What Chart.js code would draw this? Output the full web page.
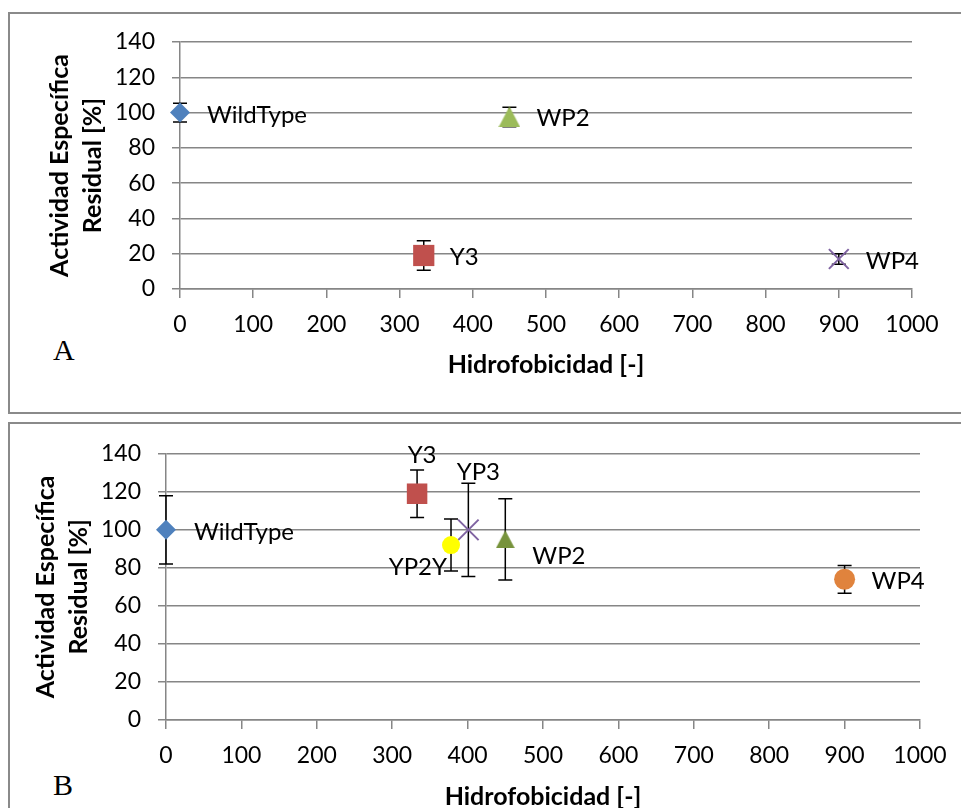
<!DOCTYPE html>
<html>
<head>
<meta charset="utf-8">
<script src="https://cdn.jsdelivr.net/npm/chart.js@4.4.1/dist/chart.umd.min.js"></script>
<style>
  html, body { margin: 0; padding: 0; background: #fff; overflow: hidden; }
  body { width: 961px; height: 808px; position: relative; }
  .frame { position: absolute; left: 8px; width: 1000px; border: 2px solid #8a8a8a; box-sizing: border-box; }
  .letter { position: absolute; left: 53px; font-family: "Liberation Serif", serif; font-size: 30px; line-height: 30px; color: #000; }
  canvas { position: absolute; left: 0; }
</style>
</head>
<body>
<div class="frame" style="top:12px;height:402px;"></div>
<div class="frame" style="top:422px;height:500px;"></div>
<div class="letter" style="top:335px;">A</div>
<div class="letter" style="top:770px;">B</div>
<canvas id="chartA" width="961" height="413" style="top:0;"></canvas>
<canvas id="chartB" width="961" height="400" style="top:423px;"></canvas>
<script>
// パネルA のデータ
const namesA = ['WildType', 'Y3', 'WP2', 'WP4'];
const hydroA = [0, 333, 450, 900];
const activityA = [100, 19, 97.5, 17];
const errorA = [5.3, 8.4, 5.5, 3];

// パネルB のデータ
const namesB = ['WildType', 'Y3', 'YP2Y', 'YP3', 'WP2', 'WP4'];
const hydroB = [0, 333, 378, 401, 450, 900];
const activityB = [100, 119, 92, 100, 95, 74];
const errorB = [18, 12.5, 13.7, 24.5, 21.4, 7.3];

// 目盛り
const yTicks = [0, 20, 40, 60, 80, 100, 120, 140];
const xTicks = [0, 100, 200, 300, 400, 500, 600, 700, 800, 900, 1000];

const FONT = 'Lato, "Open Sans", sans-serif';
const GRID = '#868686';

// Excel風の三角マーカー（外接矩形の中心に置く）
function triangleMarker(w, h, color) {
    const c = document.createElement('canvas');
    c.width = w; c.height = h;
    const g = c.getContext('2d');
    g.fillStyle = color;
    g.beginPath();
    g.moveTo(w / 2, 0);
    g.lineTo(w, h);
    g.lineTo(0, h);
    g.closePath();
    g.fill();
    return c;
}

// 誤差棒を描くプラグイン
const errorBarPlugin = {
    id: 'errorBars',
    beforeDatasetsDraw(chart, args, opts) {
        const ctx = chart.ctx;
        const xs = chart.scales.x, ys = chart.scales.y;
        ctx.save();
        ctx.strokeStyle = '#000';
        ctx.lineWidth = 1.5;
        opts.errors.forEach((e, i) => {
            const x = xs.getPixelForValue(opts.xs[i]);
            const top = ys.getPixelForValue(opts.ys[i] + e);
            const bot = ys.getPixelForValue(opts.ys[i] - e);
            ctx.beginPath();
            ctx.moveTo(x, top); ctx.lineTo(x, bot);
            ctx.moveTo(x - 7, top); ctx.lineTo(x + 7, top);
            ctx.moveTo(x - 7, bot); ctx.lineTo(x + 7, bot);
            ctx.stroke();
        });
        ctx.restore();
    }
};

// 点ラベルを描くプラグイン
const pointLabelPlugin = {
    id: 'pointLabels',
    afterDatasetsDraw(chart, args, opts) {
        const ctx = chart.ctx;
        ctx.save();
        ctx.font = '24px ' + FONT;
        ctx.fillStyle = '#000';
        ctx.textBaseline = 'middle';
        chart.data.datasets.forEach((ds, i) => {
            const p = chart.getDatasetMeta(i).data[0];
            const off = opts.offsets[i];
            ctx.textAlign = off[2] || 'left';
            ctx.fillText(ds.label, p.x + off[0], p.y + off[1]);
        });
        ctx.restore();
    }
};

function makeDatasets(names, xs, ys, styles, colors, radii) {
    return names.map((n, i) => ({
        label: n,
        data: [{ x: xs[i], y: ys[i] }],
        pointStyle: styles[i],
        pointRadius: radii[i],
        backgroundColor: colors[i],
        borderColor: colors[i],
        borderWidth: styles[i] === 'crossRot' ? 2 : 0,
        pointHoverRadius: radii[i],
        clip: false
    }));
}

function makeChart(id, datasets, errCfg, offsets, pad, yWidth, xHeight) {
    return new Chart(document.getElementById(id), {
        type: 'scatter',
        data: { datasets: datasets },
        options: {
            responsive: false,
            animation: false,
            devicePixelRatio: 1,
            layout: { padding: pad },
            plugins: {
                legend: { display: false },
                tooltip: { enabled: false },
                errorBars: errCfg,
                pointLabels: { offsets: offsets }
            },
            scales: {
                x: {
                    type: 'linear',
                    min: 0, max: 1000,
                    afterBuildTicks: s => { s.ticks = xTicks.map(v => ({ value: v })); },
                    afterFit: s => { s.height = xHeight; },
                    grid: { drawOnChartArea: false, drawTicks: true, tickLength: 9, color: GRID, lineWidth: 1.5 },
                    border: { display: true, color: GRID, width: 1.5 },
                    ticks: { color: '#000', padding: 13, font: { family: FONT, size: 23 }, maxRotation: 0, callback: v => String(v) },
                    title: { display: true, text: 'Hidrofobicidad [-]', color: '#000', font: { family: FONT, size: 25, weight: 'bold', lineHeight: 1.2 } }
                },
                y: {
                    type: 'linear',
                    min: 0, max: 140,
                    afterBuildTicks: s => { s.ticks = yTicks.map(v => ({ value: v })); },
                    afterFit: s => { s.width = yWidth; },
                    grid: { drawOnChartArea: true, drawTicks: true, tickLength: 8, color: GRID, lineWidth: 1.5 },
                    border: { display: true, color: GRID, width: 1.5 },
                    ticks: { color: '#000', padding: 17, font: { family: FONT, size: 23 }, callback: v => String(v) },
                    title: { display: true, text: ['Actividad Específica', 'Residual [%]'], color: '#000', font: { family: FONT, size: 25, weight: 'bold', lineHeight: 1.3 } }
                }
            }
        },
        plugins: [errorBarPlugin, pointLabelPlugin]
    });
}

makeChart('chartA',
    makeDatasets(namesA, hydroA, activityA,
        ['rectRot', 'rect', triangleMarker(22, 21, '#9bbb59'), 'crossRot'],
        ['#4f81bd', '#c0504d', '#9bbb59', '#8064a2'],
        [10, 15, 11, 14]),
    { xs: hydroA, ys: activityA, errors: errorA },
    [[27, 3], [26, 2], [27, 1], [27, 2]],
    { left: 40, top: 42, right: 49, bottom: 29 }, 140, 95);

makeChart('chartB',
    makeDatasets(namesB, hydroB, activityB,
        ['rectRot', 'rect', 'circle', 'crossRot', triangleMarker(19, 18, '#77933c'), 'circle'],
        ['#4f81bd', '#c0504d', '#ffff00', '#8064a2', '#77933c', '#e0833d'],
        [10, 14.5, 9, 14.5, 10, 10.5]),
    { xs: hydroB, ys: activityB, errors: errorB },
    [[28, 2], [5, -38, 'center'], [-4, 22, 'right'], [10, -58, 'center'], [27, 17], [27, 2]],
    { left: 26, top: 28, right: 41, bottom: 7 }, 140, 96);
</script>
</body>
</html>
